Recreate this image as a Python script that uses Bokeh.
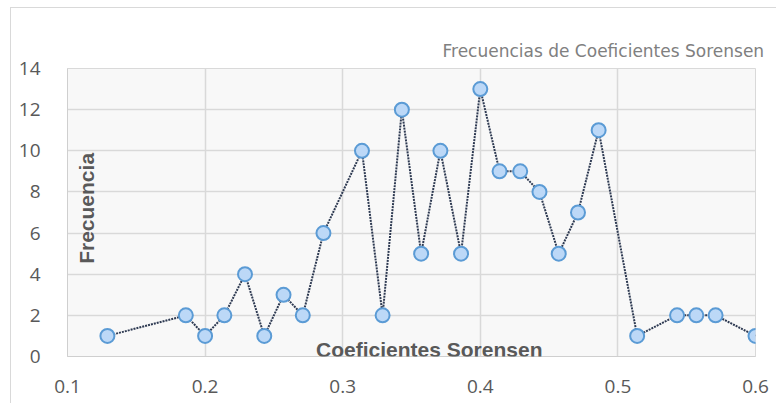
import math
from bokeh.plotting import figure
from bokeh.models import Label, FixedTicker, ColumnDataSource
from bokeh.embed import file_html
from bokeh.resources import INLINE

coef = [0.129, 0.186, 0.200, 0.214, 0.229, 0.243, 0.257, 0.271, 0.286, 0.314,
        0.329, 0.343, 0.357, 0.371, 0.386, 0.400, 0.414, 0.429, 0.443, 0.457,
        0.471, 0.486, 0.514, 0.543, 0.557, 0.571, 0.600]
freq = [1, 2, 1, 2, 4, 1, 3, 2, 6, 10,
        2, 12, 5, 10, 5, 13, 9, 9, 8, 5,
        7, 11, 1, 2, 2, 2, 1]
x_ticks = [0.1, 0.2, 0.3, 0.4, 0.5, 0.6]
y_ticks = [0, 2, 4, 6, 8, 10, 12, 14]
title_text = "Frecuencias de Coeficientes Sorensen"
x_title = "Coeficientes Sorensen"
y_title = "Frecuencia"

src = ColumnDataSource(dict(x=coef, y=freq))

p = figure(frame_width=688, frame_height=288, x_range=(0.1, 0.6), y_range=(0, 14),
           output_backend="svg", toolbar_location=None,
           min_border_left=56, min_border_top=60, min_border_right=21, min_border_bottom=47)
p.styles = {"border-left": "1px solid #d9d9d9", "border-top": "1px solid #d9d9d9",
            "margin-left": "10px", "margin-top": "7px"}
p.background_fill_color = "#f8f8f8"
p.border_fill_color = "white"
p.outline_line_color = "#d9d9d9"

p.title.text = title_text
p.title.align = "left"
p.title.offset = 375
p.title.standoff = 16
p.title.text_font = "DejaVu Sans"
p.title.text_font_size = "17px"
p.title.text_font_style = "normal"
p.title.text_color = "#808080"

p.xaxis.ticker = FixedTicker(ticks=x_ticks)
p.yaxis.ticker = FixedTicker(ticks=y_ticks)
p.xaxis.major_label_overrides = {t: f"{t:.1f}" for t in x_ticks}
for ax in (p.xaxis, p.yaxis):
    ax.major_tick_line_color = None
    ax.minor_tick_line_color = None
    ax.axis_line_color = "#cfcfcf"
    ax.major_label_text_font = "Open Sans"
    ax.major_label_text_font_size = "19px"
    ax.major_label_text_color = "#595959"
p.yaxis.major_label_standoff = 21
p.xaxis.major_label_standoff = 17

p.xgrid.grid_line_color = "#d9d9d9"
p.ygrid.grid_line_color = "#d9d9d9"
p.xgrid.grid_line_width = 1.5
p.ygrid.grid_line_width = 1.5

p.line("x", "y", source=src, line_color="#2e3a52", line_width=2, line_dash="2 1")
p.scatter("x", "y", source=src, size=14, fill_color="#bcd8f7", line_color="#5b9bd5", line_width=2)

p.add_layout(Label(x=0.3629, y=0.36, text=x_title, text_font="Liberation Sans",
                   text_font_size="21px", text_font_style="bold", text_color="#595959",
                   text_align="center", text_baseline="middle"))
p.add_layout(Label(x=0.1138, y=7.2, text=y_title, angle=math.pi / 2,
                   text_font="Liberation Sans", text_font_size="21px",
                   text_font_style="bold", text_color="#595959",
                   text_align="center", text_baseline="middle"))

open("out.html", "w").write(file_html(p, INLINE))
